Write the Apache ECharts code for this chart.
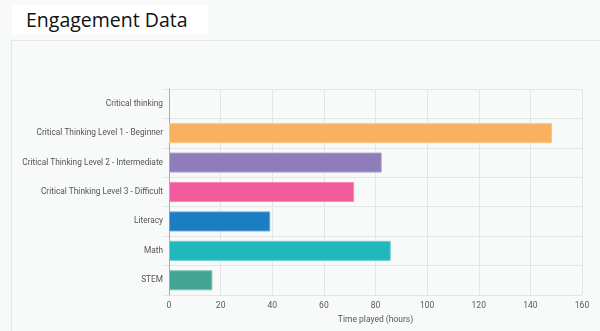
<!DOCTYPE html>
<html><head><meta charset="utf-8">
<script src="https://cdn.jsdelivr.net/npm/echarts@6/dist/echarts.min.js"></script>
<style>
html,body{margin:0;padding:0;background:#f8f9f9;width:600px;height:331px;overflow:hidden;}
#title{position:absolute;left:12px;top:5px;width:196px;height:29px;background:#fff;font-family:'Open Sans',Lato,sans-serif;font-weight:400;font-size:19.5px;color:#111;line-height:30px;padding-left:14px;box-sizing:border-box;}
#panel{position:absolute;left:11px;top:40px;width:600px;height:300px;border-left:1px solid #e6e8e8;border-top:1px solid #e6e8e8;}
#chart{position:absolute;left:0;top:0;width:600px;height:331px;}
</style></head><body>
<div id="title">Engagement Data</div>
<div id="panel"></div>
<div id="chart"></div>
<script>
const categories = ["Critical thinking","Critical Thinking Level 1 - Beginner","Critical Thinking Level 2 - Intermediate","Critical Thinking Level 3 - Difficult","Literacy","Math","STEM"];
const values = [0, 148.4, 82.4, 71.7, 39.2, 85.9, 16.8];
const barColors = ["#f9b05f","#f9b05f","#8f7cba","#f25b9b","#1c7ec2","#22b7bb","#44a594"];
const borderColors = ["#fbc68a","#fbc68a","#b0a2d2","#f58bb9","#5ea5d6","#63cfd1","#7cc2b5"];
const xTicks = [0,20,40,60,80,100,120,140,160];
const chart = echarts.init(document.getElementById('chart'));
chart.setOption({
  animation:false,
  grid:{left:169,right:18,top:89,bottom:36,containLabel:false},
  xAxis:{type:'value',min:xTicks[0],max:xTicks[xTicks.length-1],interval:20,
    name:'Time played (hours)',nameLocation:'middle',nameGap:18,
    nameTextStyle:{color:'#595959',fontSize:8.5,fontFamily:'Roboto, Arial, sans-serif'},
    axisLabel:{color:'#595959',fontSize:8.5,margin:6,fontFamily:'Roboto, Arial, sans-serif'},
    axisLine:{show:false},axisTick:{show:false},
    splitLine:{show:true,lineStyle:{color:'#e4e6e6'}}},
  yAxis:{type:'category',data:categories,inverse:true,
    axisLabel:{color:'#555',fontSize:8.3,margin:6,fontFamily:'Roboto, Arial, sans-serif'},
    axisLine:{show:true,lineStyle:{color:'#aaa'}},
    axisTick:{show:true,length:6,lineStyle:{color:'#e4e6e6'}},
    splitLine:{show:true,lineStyle:{color:'#e4e6e6'}}},
  series:[{type:'bar',barWidth:'68%',
    data:values.map((v,i)=>({value:v,itemStyle:{color:barColors[i],borderColor:borderColors[i],borderWidth:v>0?1:0}}))}]
});
</script>
</body></html>
